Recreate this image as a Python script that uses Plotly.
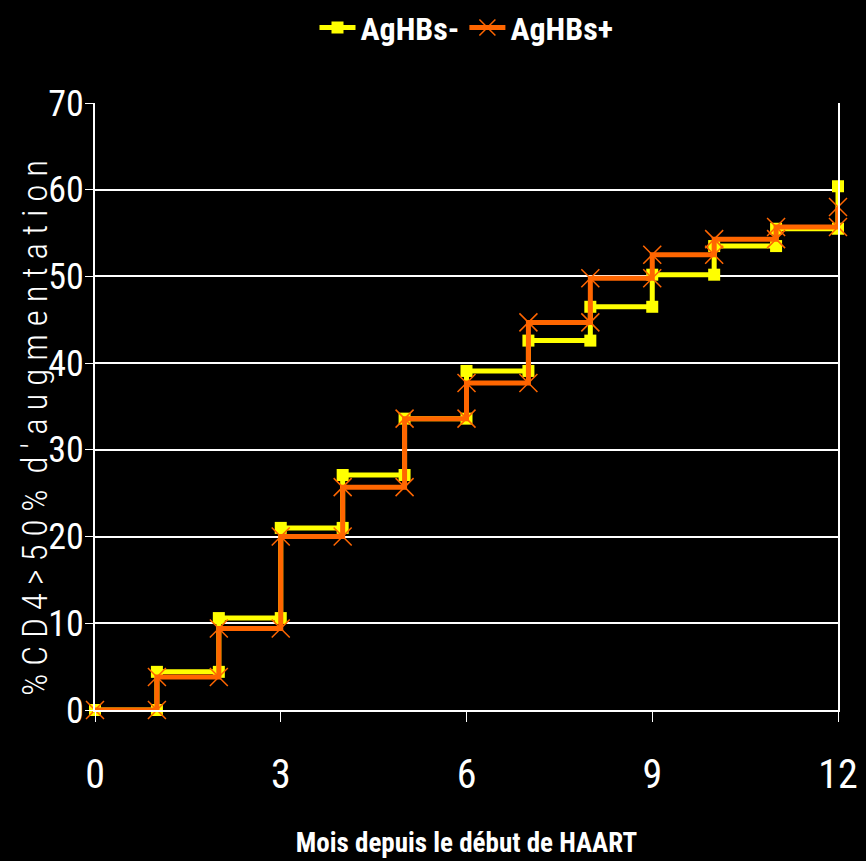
import plotly.graph_objects as go

months = list(range(13))
agHBs_neg = [0, 4.4, 10.6, 21.0, 27.1, 33.6, 39.1, 42.6, 46.5, 50.2, 53.5, 55.5, 60.4]
agHBs_pos = [0, 3.8, 9.4, 20.0, 25.7, 33.6, 37.7, 44.7, 49.8, 52.5, 54.3, 55.7, 58.0]
x_ticks = [0, 3, 6, 9, 12]
y_ticks = [0, 10, 20, 30, 40, 50, 60, 70]


def steps(xs, ys):
    sx, sy = [xs[0]], [ys[0]]
    for i in range(1, len(xs)):
        sx += [xs[i], xs[i]]
        sy += [ys[i - 1], ys[i]]
    return sx, sy


FONT = "Liberation Sans Narrow, Arial Narrow, Roboto Condensed, sans-serif"

fig = go.Figure()
xn, yn = steps(months, agHBs_neg)
xp, yp = steps(months, agHBs_pos)
fig.add_trace(go.Scatter(
    x=xn, y=yn, mode="lines+markers", name="AgHBs-",
    line=dict(color="#FFFF00", width=5),
    marker=dict(symbol="square", size=12, color="#FFFF00",
                line=dict(color="#FFFF00", width=0)),
    cliponaxis=False,
))
fig.add_trace(go.Scatter(
    x=xp, y=yp, mode="lines+markers", name="AgHBs+",
    line=dict(color="#FF6600", width=5),
    marker=dict(symbol="x-thin-open", size=18, color="#FF6600",
                line=dict(color="#FF6600", width=1.5)),
    cliponaxis=False,
))

fig.update_layout(
    width=866, height=861,
    paper_bgcolor="black", plot_bgcolor="black",
    margin=dict(l=95, r=28, t=103, b=151, autoexpand=False),
    font=dict(family=FONT, color="white"),
    showlegend=True,
    legend=dict(orientation="h", x=0.5, xanchor="center", y=1.124, yanchor="middle",
                font=dict(size=32, family=FONT, color="white", weight="bold"),
                bgcolor="rgba(0,0,0,0)", itemwidth=36),
    xaxis=dict(
        range=[0, 12], tickvals=x_ticks, ticktext=[str(v) for v in x_ticks],
        showgrid=False, zeroline=False,
        showline=True, linecolor="white", linewidth=2,
        ticks="outside", ticklen=10, tickcolor="white", tickwidth=1,
        ticklabelstandoff=18,
        tickfont=dict(size=40, family=FONT, color="white"),
        title=dict(text="Mois depuis le début de HAART",
                   font=dict(size=27, family=FONT, color="white", weight="bold"),
                   standoff=36),
    ),
    yaxis=dict(
        range=[0, 70], tickvals=y_ticks, ticktext=[str(v) for v in y_ticks],
        showgrid=True, gridcolor="white", gridwidth=2,
        zeroline=False,
        showline=True, linecolor="white", linewidth=2, mirror=True,
        ticks="outside", ticklen=8, tickcolor="white", tickwidth=1,
        ticklabelstandoff=-6,
        tickfont=dict(size=36, family=FONT, color="white"),
    ),
    annotations=[dict(
        text="% C D 4 > 5 0 %  d ' a u g m e n t a t i o n",
        xref="paper", yref="paper", x=(36 - 95) / 743, y=(710 - 428) / 607,
        xanchor="center", yanchor="middle", textangle=-90, showarrow=False,
        font=dict(size=35, family=FONT, color="white", weight=300),
    )],
)

fig.write_html("out.html")
